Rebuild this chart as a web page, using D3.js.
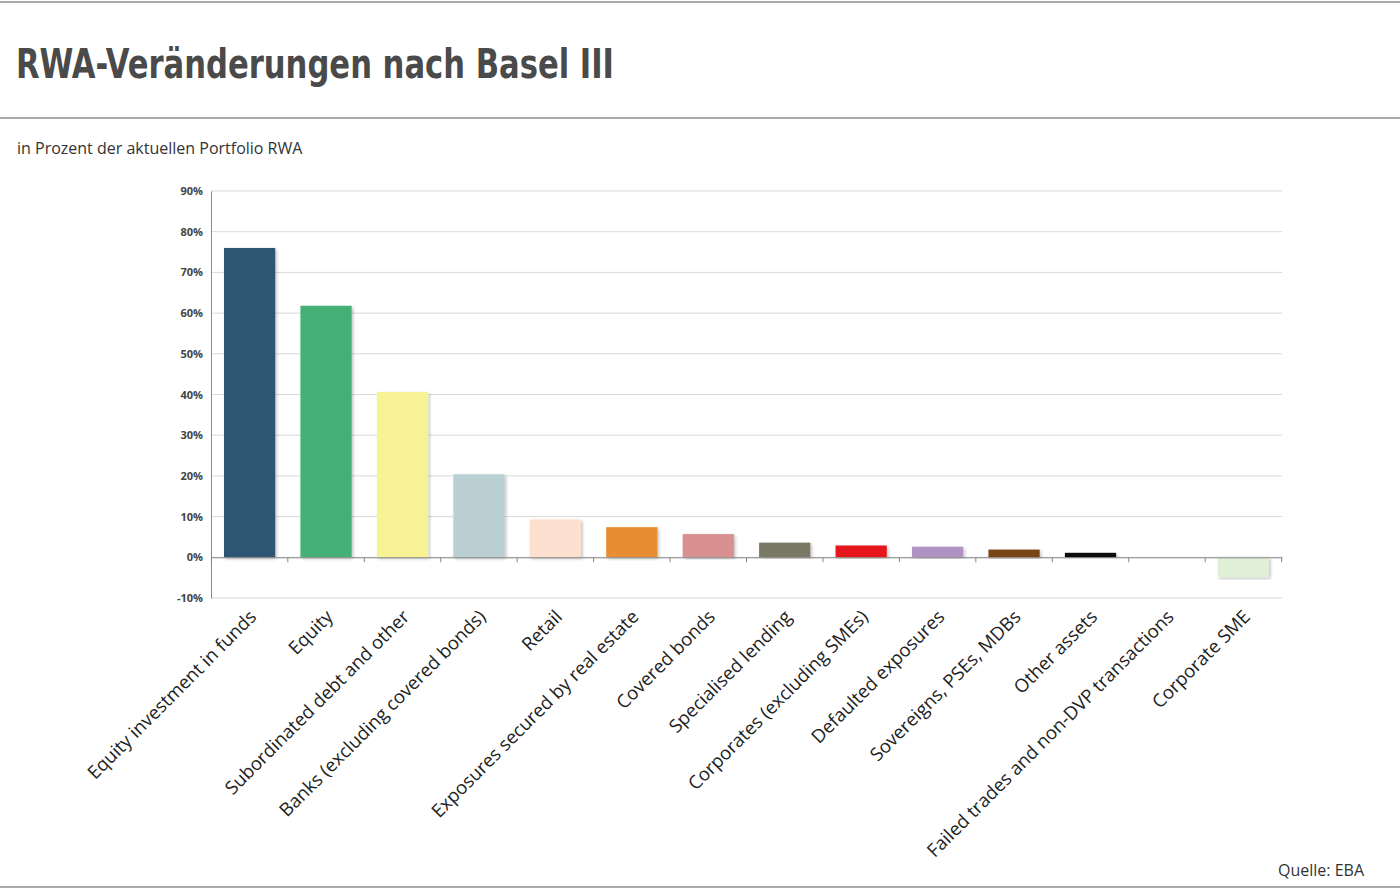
<!DOCTYPE html>
<html>
<head>
<meta charset="utf-8">
<script src="https://d3js.org/d3.v7.min.js"></script>
<style>
  body { margin: 0; background: #fff; }
  text { font-family: "Open Sans", "DejaVu Sans", sans-serif; }
</style>
</head>
<body>
<svg id="chart" width="1400" height="894"></svg>
<script>
var categories = ["Equity investment in funds", "Equity", "Subordinated debt and other",
  "Banks (excluding covered bonds)", "Retail", "Exposures secured by real estate",
  "Covered bonds", "Specialised lending", "Corporates (excluding SMEs)",
  "Defaulted exposures", "Sovereigns, PSEs, MDBs", "Other assets",
  "Failed trades and non-DVP transactions", "Corporate SME"];
var values = [76.0, 61.8, 40.6, 20.4, 9.3, 7.4, 5.7, 3.6, 2.9, 2.6, 1.9, 1.1, 0, -4.9];
var colors = ["#2e5571", "#45b074", "#f7f294", "#b9cfd4", "#fde0cf", "#e98d33", "#d99090",
  "#7a7966", "#e6191e", "#b192c5", "#7a4512", "#111111", "#ffffff", "#e0efd8"];
var ticks = [-10, 0, 10, 20, 30, 40, 50, 60, 70, 80, 90];

var svg = d3.select("#chart");

// frame lines
[2, 118, 887].forEach(function(y) {
  svg.append("line").attr("x1", 0).attr("x2", 1400).attr("y1", y).attr("y2", y)
    .attr("stroke", "#555").attr("stroke-width", 1);
});

svg.append("text").attr("x", 16).attr("y", 78)
  .style("font-family", "'DejaVu Sans Condensed', 'DejaVu Sans', sans-serif")
  .style("font-stretch", "condensed").style("font-weight", "bold")
  .style("font-size", "40px").attr("fill", "#4a4a4a")
  .attr("textLength", 598).attr("lengthAdjust", "spacingAndGlyphs")
  .text("RWA-Veränderungen nach Basel III");

svg.append("text").attr("x", 17).attr("y", 154).style("font-size", "16px")
  .attr("fill", "#333").text("in Prozent der aktuellen Portfolio RWA");

svg.append("text").attr("x", 1364).attr("y", 876).attr("text-anchor", "end")
  .style("font-size", "16px").attr("fill", "#333").text("Quelle: EBA");

var x = d3.scaleBand().domain(categories).range([211, 1282]).paddingInner(0.33).paddingOuter(0.17);
var y = d3.scaleLinear().domain([-10, 90]).range([598, 191]);

var g = svg.append("g");

g.selectAll(".grid").data(ticks).enter().append("line")
  .attr("x1", 211).attr("x2", 1282)
  .attr("y1", function(d) { return y(d); }).attr("y2", function(d) { return y(d); })
  .attr("stroke", "#d9d9d9");

var yAxis = g.append("g").attr("transform", "translate(211,0)")
  .call(d3.axisLeft(y).tickValues(ticks).tickSize(0).tickPadding(8)
    .tickFormat(function(d) { return d + "%"; }));
yAxis.select(".domain").attr("stroke", "#888");
yAxis.selectAll("text").style("font-size", "11px").style("font-weight", "bold").attr("fill", "#444");

var defs = svg.append("defs");
defs.append("filter").attr("id", "sh").append("feDropShadow")
  .attr("dx", 1.5).attr("dy", 1.5).attr("stdDeviation", 1.5).attr("flood-opacity", 0.25);

g.selectAll(".bar").data(values).enter().append("rect")
  .attr("x", function(d, i) { return x(categories[i]); })
  .attr("width", x.bandwidth())
  .attr("y", function(d) { return y(Math.max(0, d)); })
  .attr("height", function(d) { return Math.abs(y(d) - y(0)); })
  .attr("fill", function(d, i) { return colors[i]; })
  .attr("filter", "url(#sh)");

var xAxis = g.append("g").attr("transform", "translate(0," + y(0) + ")")
  .call(d3.axisBottom(x).tickSize(0).tickFormat(""));
xAxis.select(".domain").attr("stroke", "#888");

var step = x.step();
g.selectAll(".xt").data(d3.range(categories.length + 1)).enter().append("line")
  .attr("x1", function(i) { return 211 + x.paddingOuter() * step - x.paddingInner() * step / 2 + i * step; })
  .attr("x2", function(i) { return 211 + x.paddingOuter() * step - x.paddingInner() * step / 2 + i * step; })
  .attr("y1", y(0)).attr("y2", y(0) + 5).attr("stroke", "#888");

g.selectAll(".lbl").data(categories).enter().append("text")
  .attr("transform", function(d) {
    return "translate(" + (x(d) + x.bandwidth() / 2 + 8) + ",618) rotate(-45)";
  })
  .attr("text-anchor", "end").style("font-size", "18.5px").attr("fill", "#222")
  .text(function(d) { return d; });
</script>
</body>
</html>
